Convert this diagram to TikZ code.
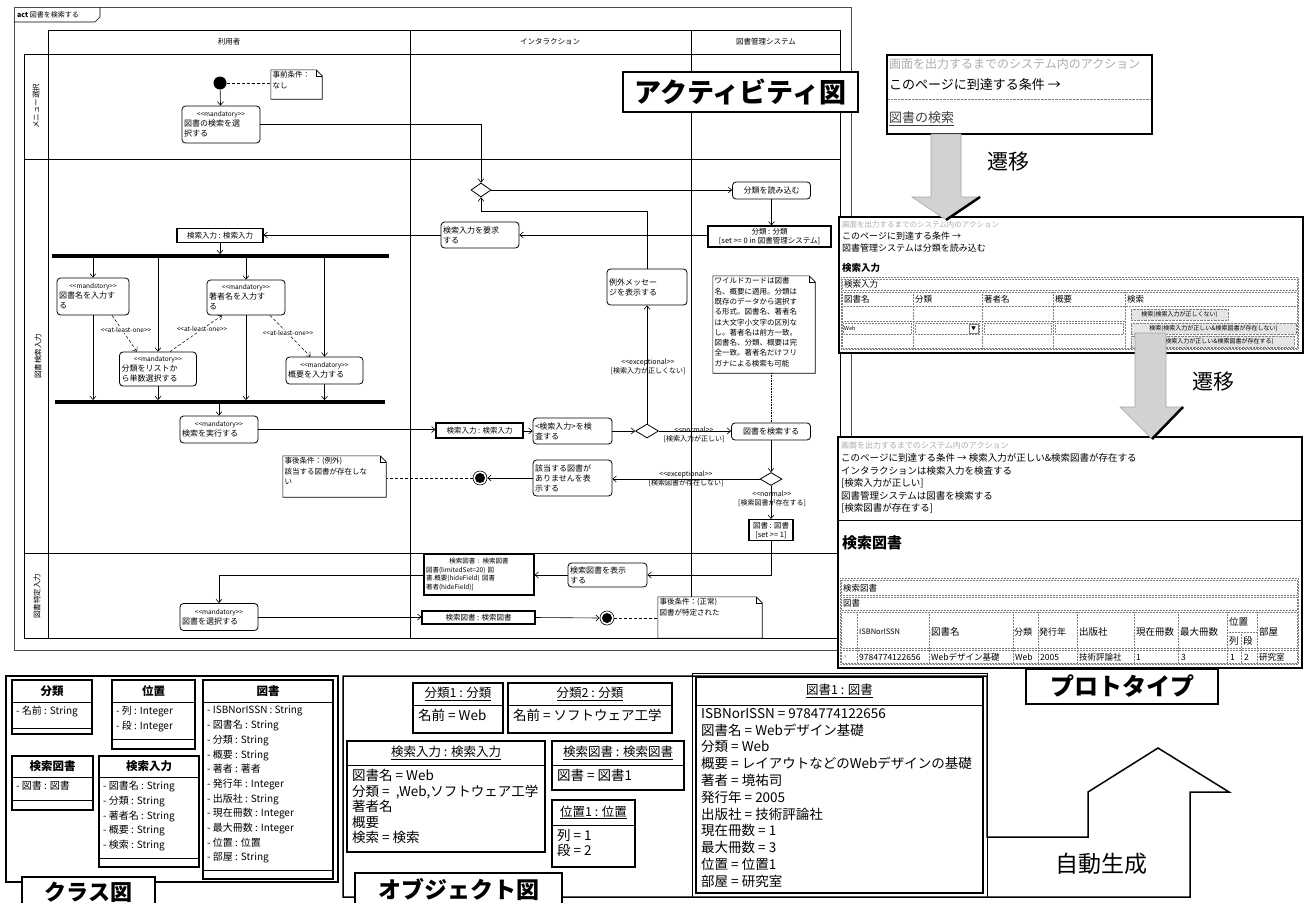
\documentclass[tikz,border=0pt]{standalone}
\usepackage{fontspec}
\setmainfont{Noto Sans CJK JP}
\usetikzlibrary{arrows.meta,shapes.geometric,calc}
\newcommand\fsz[2]{\fontsize{#1}{#2}\selectfont}
\newcommand\stx[1]{\hfill{\fsz{6.5}{8}<{}<#1>{}>}\hfill\null}
\newcommand\notefold[1]{%
  \draw[line width=0.6pt,fill=white] (#1.north west) -- ([xshift=-6pt]#1.north east) -- ([yshift=-6pt]#1.north east) -- (#1.south east) -- (#1.south west) -- cycle;
  \draw[line width=0.6pt] ([xshift=-6pt]#1.north east) |- ([yshift=-6pt]#1.north east);}
\newcommand\classbox[9]{%
  \draw[cls] (#2,#3) rectangle (#4,#5);
  \draw[line width=1pt] (#2,#6) -- (#4,#6);
  \draw[line width=1pt] (#2,#7) -- (#4,#7);
  \node[font=\bfseries\fsz{11.5}{13}, inner sep=0] (#1) at ({(#2+#4)/2},{(#3+#6)/2}) {#8};
  \node[anchor=north west, align=left, font=\fsz{10}{14.7}, inner sep=0] (#1-a) at ({#2+4},{#6+4}) {#9};}
\newcommand\objbox[8]{%
  \draw[cls] (#2,#3) rectangle (#4,#5);
  \draw[line width=1pt] (#2,#6) -- (#4,#6);
  \node[font=\fsz{12.5}{13}, inner sep=0] (#1) at ({(#2+#4)/2},{(#3+#6)/2}) {\underline{#7}};
  \node[anchor=north west, align=left, font=\fsz{13.5}{15.5}, inner sep=0] (#1-a) at ({#2+5},{#6+4}) {#8};}
\begin{document}
\begin{tikzpicture}[x=1pt,y=-1pt,
  act/.style={draw, rounded corners=3.5pt, fill=white, line width=0.8pt, inner sep=2pt, align=left, font=\fsz{8}{10}},
  obj/.style={draw, fill=white, line width=1.1pt, inner sep=1pt, align=center, font=\fsz{7.5}{9}},
  diam/.style={diamond, draw, fill=white, inner sep=0, line width=0.8pt},
  flow/.style={-{Straight Barb[length=3.5pt,width=6pt]}, line width=0.6pt},
  dep/.style={densely dashed, -{Straight Barb[length=3.5pt,width=6pt]}, line width=0.5pt},
  lane/.style={line width=0.8pt},
  lbl/.style={align=center, font=\fsz{7}{9}, inner sep=0},
  notetxt/.style={anchor=north west, align=left, inner sep=1.5pt, font=\fsz{7.5}{10.3}},
  cls/.style={draw, line width=1.5pt, fill=white},
  bigl/.style={draw, line width=1.6pt, fill=white, font=\bfseries\fsz{25}{28}, inner sep=0},
  pbox/.style={draw, line width=1.6pt, fill=white, inner sep=0},
  ptxt/.style={anchor=west, inner sep=0, font=\fsz{9.5}{11}},
  tcell/.style={draw=gray, densely dotted, line width=0.5pt},
  btn/.style={draw=gray, densely dotted, fill=gray!20, font=\fsz{6}{7}, inner sep=0},
  tarrow/.style={fill=gray!35, draw=gray!70, line width=0.6pt},
  tlbl/.style={font=\fsz{21}{23}, inner sep=0},
  bar/.style={fill=black, inner sep=0, minimum height=3.5pt},
  fin/.style={circle, draw, fill=white, minimum size=14pt, inner sep=0, line width=0.6pt}
]
\useasboundingbox (0,0) rectangle (1305,902);
\fill[white] (0,0) rectangle (1305,902);

%================ ACTIVITY DIAGRAM =================
\draw[line width=0.6pt, black!70] (14,7) rectangle (851,650);
\draw[line width=0.6pt] (14,22) -- (95,22) -- (100,17) -- (100,7);
\node[font=\fsz{7}{8}, anchor=west, inner sep=0] (acttitle) at (17,15) {\textbf{act} 図書を検索する};

\draw[lane] (48,30) -- (840,30);
\draw[lane] (24,54) -- (840,54);
\draw[lane] (24,159) -- (840,159);
\draw[lane] (24,553) -- (840,553);
\draw[lane] (24,638) -- (840,638);
\draw[lane] (24,54) -- (24,638);
\draw[lane] (48,30) -- (48,638);
\draw[lane] (410,30) -- (410,638);
\draw[lane] (691,30) -- (691,638);
\draw[lane] (840,30) -- (840,638);

\node[font=\fsz{7.5}{9}] (h1) at (229,42) {利用者};
\node[font=\fsz{7.5}{9}] (h2) at (550,42) {インタラクション};
\node[font=\fsz{7.5}{9}] (h3) at (766,42) {図書管理システム};
\node[rotate=90, font=\fsz{7.5}{9}] (r1) at (36,106) {メニュー選択};
\node[rotate=90, font=\fsz{7.5}{9}] (r2) at (38,356) {図書検索入力};
\node[rotate=90, font=\fsz{7.5}{9}] (r3) at (37,596) {図書特定入力};

% row 1
\node[circle, fill=black, minimum size=13pt, inner sep=0] (init) at (220,83) {};
\node[minimum width=51pt, minimum height=29pt, inner sep=0] (pre) at (296.5,84.5) {};
\notefold{pre}
\node[notetxt] (pret) at (pre.north west) {事前条件：\\なし};
\node[act, text width=74pt, minimum height=37pt] (m1) at (221,124.5) {\stx{mandatory}\\図書の検索を選\\択する};

% row 2
\node[diam, minimum width=20pt, minimum height=14pt] (d1) at (481,190) {};
\node[act, text width=74pt, minimum height=17pt, align=center] (rd) at (771.5,190.5) {分類を読み込む};
\node[obj, minimum width=123pt, minimum height=21pt] (cobj) at (769.5,236.5) {分類 : 分類\\{[}set >= 0 in 図書管理システム{]}};
\node[act, text width=74pt, minimum height=26pt] (req) at (480,235) {検索入力を要求\\する};
\node[obj, minimum width=86pt, minimum height=14pt] (in1) at (220,235.5) {検索入力 : 検索入力};
\node[bar, minimum width=337pt] (fork) at (220.5,256) {};
\node[act, text width=68pt, minimum height=37pt] (b1) at (93,296.5) {\stx{mandstory}\\図書名を入力す\\る};
\node[act, text width=73pt, minimum height=34pt] (b2) at (158,369) {\stx{mandatory}\\分類をリストか\\ら単数選択する};
\node[act, text width=74pt, minimum height=35pt] (b3) at (246,297.5) {\stx{mandatory}\\著者名を入力す\\る};
\node[act, text width=73pt, minimum height=27pt] (b4) at (324.5,370.5) {\stx{mandatory}\\概要を入力する};
\node[bar, minimum width=330pt] (join) at (220,402) {};
\node[act, text width=74pt, minimum height=27pt] (m2) at (219,429.5) {\stx{mandatory}\\検索を実行する};
\node[obj, minimum width=87pt, minimum height=15pt] (in2) at (479.5,430.5) {検索入力 : 検索入力};
\node[act, text width=75pt, minimum height=26pt] (chk) at (572.5,431) {<検索入力>を検\\査する};
\node[diam, minimum width=23pt, minimum height=14pt] (d2) at (647,431) {};
\node[act, text width=76pt, minimum height=36pt] (ex) at (647,287) {例外メッセー\\ジを表示する};
\node[act, text width=75pt, minimum height=17pt, align=center] (src) at (771,431.5) {図書を検索する};
\node[minimum width=102pt, minimum height=97pt, inner sep=0] (wn) at (764,324.5) {};
\notefold{wn}
\node[notetxt] (wnt) at (wn.north west) {ワイルドカードは図書\\名、概要に適用。分類は\\既存のデータから選択す\\る形式。図書名、著者名\\は大文字小文字の区別な\\し。著者名は前方一致。\\図書名、分類、概要は完\\全一致。著者名だけフリ\\ガナによる検索も可能};
\node[diam, minimum width=22pt, minimum height=13pt] (d3) at (771,479) {};
\node[act, text width=75pt, minimum height=36pt] (nf) at (572.5,478) {該当する図書が\\ありませんを表\\示する};
\node[fin] (f1) at (480,478) {};
\fill (f1.center) circle (5pt);
\node[minimum width=103pt, minimum height=41pt, inner sep=0] (po1) at (334.5,476.5) {};
\notefold{po1}
\node[notetxt] (po1t) at (po1.north west) {事後条件：(例外)\\該当する図書が存在しな\\い};
\node[obj, minimum width=44pt, minimum height=21pt] (bk) at (771,530) {図書 : 図書\\{[}set >= 1{]}};

% row 3
\node[act, text width=75pt, minimum height=24pt] (shw) at (607.5,575) {検索図書を表示\\する};
\node[obj, text width=106pt, minimum height=41pt, font=\fsz{6.5}{8.5}, align=left, inner sep=2pt] (sb) at (479,574.5) {\hfill 検索図書 : 検索図書\hfill\null\\図書(limitedSet=20) 図\\書.概要(hideField) 図書\\著者(hideField)]};
\node[act, text width=74pt, minimum height=27pt] (sel) at (219,617) {\stx{mandatory}\\図書を選択する};
\node[obj, minimum width=113pt, minimum height=13pt] (sb2) at (478.5,617.5) {検索図書 : 検索図書};
\node[fin] (f2) at (607,618) {};
\fill (f2.center) circle (5pt);
\node[minimum width=104pt, minimum height=41pt, inner sep=0] (po2) at (710,617.5) {};
\notefold{po2}
\node[notetxt] (po2t) at (po2.north west) {事後条件：(正常)\\図書が特定された};

% edges
\draw[densely dashed, line width=0.5pt] (init) -- (pre.west |- init);
\draw[flow] (init) -- (m1);
\draw[flow] (m1.east) -| (d1.north);
\draw[flow] (d1.east) -- (rd.west |- d1);
\draw[flow] (rd.south) -- (rd.south |- cobj.north);
\draw[flow] (cobj.west |- req) -- (req.east);
\draw[flow] (req.west) -- (in1.east |- req);
\draw[flow] (in1.south) -- (in1.south |- fork.north);
\draw[flow] (fork.south -| b1.north) -- (b1.north);
\draw[flow] (fork.south -| b2.north) -- (b2.north);
\draw[flow] (fork.south -| b3.north) -- (b3.north);
\draw[flow] (fork.south -| b4.north) -- (b4.north);
\draw[flow] (b1.south) -- (b1.south |- join.north);
\draw[flow] (b2.south) -- (b2.south |- join.north);
\draw[flow] (b3.south) -- (b3.south |- join.north);
\draw[flow] (b4.south) -- (b4.south |- join.north);
\draw[dep] ([xshift=19pt]b1.south) -- ([xshift=-21pt]b2.north);
\draw[dep] ([xshift=12pt]b2.north) -- ([xshift=-24pt]b3.south);
\draw[dep] ([xshift=24pt]b3.south) -- ([xshift=-14pt]b4.north);
\node[font=\fsz{6.5}{8}, fill=white, inner sep=0.5pt] (al1) at (126,330) {<{}<at-least-one>{}>};
\node[font=\fsz{6.5}{8}, fill=white, inner sep=0.5pt] (al2) at (202,329) {<{}<at-least-one>{}>};
\node[font=\fsz{6.5}{8}, fill=white, inner sep=0.5pt] (al3) at (288,333) {<{}<at-least-one>{}>};
\draw[flow] (join.south -| m2.north) -- (m2.north);
\draw[flow] (m2.east) -- (in2.west |- m2.east);
\draw[flow] (in2.east |- chk.west) -- (chk.west);
\draw[flow] (chk.east) -- (d2.west);
\draw[flow] (d2.north) -- (ex.south);
\coordinate (cex) at (481,211);
\draw[flow] (ex.north) |- (cex) -- (d1.south);
\draw[flow] (d2.east) -- (src.west |- d2.east);
\node[lbl] (l1) at (648,367) {<{}<exceptional>{}>\\{[}検索入力が正しくない{]}};
\node[lbl] (l2) at (694,435) {<{}<normal>{}>\\{[}検索入力が正しい{]}};
\draw[densely dotted, line width=0.6pt] (src.north |- wn.south) -- (src.north);
\draw[flow] (src.south) -- (d3.north);
\draw[flow] (d3.west) -- (nf.east |- d3.west);
\node[lbl] (l3) at (686,479) {<{}<exceptional>{}>\\{[}検索図書が存在しない{]}};
\draw[flow] (nf.west) -- (f1.east);
\draw[densely dashed, line width=0.5pt] (f1.west) -- (po1.east |- f1.west);
\draw[flow] (d3.south) -- (bk.north);
\node[lbl] (l4) at (772,499) {<{}<normal>{}>\\{[}検索図書が存在する{]}};
\draw[flow] (bk.south) |- (shw.east);
\draw[flow] (shw.west) -- (sb.east |- shw.west);
\draw[flow] (sb.west |- shw.west) -| (sel.north);
\draw[flow] (sel.east) -- (sb2.west |- sel.east);
\draw[flow] (sb2.east) -- (f2.west);
\draw[densely dashed, line width=0.5pt] (f2.east) -- (po2.west |- f2.east);

\node[bigl, minimum width=235pt, minimum height=40pt, font=\bfseries\fsz{27}{30}] (actlbl) at (740.5,92) {アクティビティ図};

%================ PROTOTYPES =================
\node[pbox, minimum width=265pt, minimum height=79pt] (p1) at (1019.5,94.5) {};
\node[ptxt, font=\fsz{12}{13}, text=gray!65] (p1a) at (889,64) {画面を出力するまでのシステム内のアクション};
\node[ptxt, font=\fsz{13}{14}] (p1b) at (889,85) {このページに到達する条件 →};
\draw[densely dotted, gray] (888,99) -- (1151,99);
\node[ptxt, font=\fsz{13}{14}, text=black!75] (p1c) at (889,119) {\underline{図書の検索}};

\node[pbox, minimum width=464pt, minimum height=136pt] (p2) at (1071,285) {};
\node[ptxt, font=\fsz{7.5}{8}, text=gray!65] (p2a) at (842,225) {画面を出力するまでのシステム内のアクション};
\node[ptxt, font=\fsz{9}{10}] (p2b) at (842,236) {このページに到達する条件 →};
\node[ptxt, font=\fsz{9}{10}] (p2c) at (842,248) {図書管理システムは分類を読み込む};
\node[ptxt, font=\bfseries\fsz{9.5}{10}] (p2d) at (842,268) {検索入力};
\draw[tcell] (841,277) rectangle (1298,349);
\draw[tcell] (842,279) rectangle (1297,290);
\node[ptxt, font=\fsz{8.5}{9}] (p2e) at (844,284.5) {検索入力};
\draw[tcell] (842,292) rectangle (1297,348);
\foreach \xx in {913,982,1053,1125} {\draw[tcell] (\xx,292) -- (\xx,348);}
\draw[tcell] (842,306) -- (1297,306);
\draw[tcell] (842,321) -- (1125,321);
\node[ptxt, font=\fsz{8.5}{9}] (c1) at (844,299) {図書名};
\node[ptxt, font=\fsz{8.5}{9}] (c2) at (915,299) {分類};
\node[ptxt, font=\fsz{8.5}{9}] (c3) at (984,299) {著者名};
\node[ptxt, font=\fsz{8.5}{9}] (c4) at (1055,299) {概要};
\node[ptxt, font=\fsz{8.5}{9}] (c5) at (1127,299) {検索};
\draw[tcell] (843,323) rectangle (911,334);
\node[ptxt, font=\fsz{5.5}{6}] (web) at (844,328) {Web};
\draw[tcell] (915,323) rectangle (979,334);
\draw[gray] (969,324) rectangle (978,333);
\node[font=\fsz{5}{5}, inner sep=0] (dd) at (973.5,328.5) {▼};
\draw[tcell] (984,323) rectangle (1051,334);
\draw[tcell] (1055,323) rectangle (1123,334);
\node[btn, minimum width=97pt, minimum height=11pt] (bt1) at (1179.5,314.5) {検索(検索入力が正しくない)};
\node[btn, minimum width=165pt, minimum height=11pt] (bt2) at (1213.5,328.5) {検索(検索入力が正しい\&検索図書が存在しない)};
\node[btn, minimum width=163pt, minimum height=11pt] (bt3) at (1212.5,341.5) {検索(検索入力が正しい\&検索図書が存在する)};

\draw[tarrow] (931,134) -- (931,197) -- (912,197) -- (946,220) -- (980,197) -- (961,197) -- (961,134) -- cycle;
\draw[line width=2.5pt] (980,197) -- (946,220);
\node[tlbl] (tr1) at (1008,162) {遷移};

\node[pbox, minimum width=464pt, minimum height=231pt] (p3) at (1070,552.5) {};
\node[ptxt, font=\fsz{8}{9}, text=gray!65] (p3a) at (841,445) {画面を出力するまでのシステム内のアクション};
\node[ptxt] (p3b) at (841,458) {このページに到達する条件 → 検索入力が正しい\&検索図書が存在する};
\node[ptxt] (p3c) at (841,470.5) {インタラクションは検索入力を検査する};
\node[ptxt] (p3d) at (841,483) {[検索入力が正しい]};
\node[ptxt] (p3e) at (841,495.5) {図書管理システムは図書を検索する};
\node[ptxt] (p3f) at (841,508) {[検索図書が存在する]};
\draw[line width=0.6pt] (839,520) -- (1301,520);
\node[ptxt, font=\bfseries\fsz{15}{16}] (p3g) at (842,543) {検索図書};
\draw[tcell] (840,578) rectangle (1298,664);
\draw[tcell] (841,580) rectangle (1297,595);
\node[ptxt, font=\fsz{8.5}{9}] (p3h) at (843,588) {検索図書};
\draw[tcell] (841,597) rectangle (1297,610);
\node[ptxt, font=\fsz{8.5}{9}] (p3i) at (843,603) {図書};
\draw[tcell] (841,612) rectangle (1297,648);
\draw[tcell] (841,650) rectangle (1297,663);
\foreach \xx in {857,929,1013,1038,1077,1134,1178,1227,1257} {\draw[tcell] (\xx,612) -- (\xx,663);}
\draw[tcell] (1227,632) -- (1257,632);
\draw[tcell] (1241,632) -- (1241,663);
\node[ptxt, font=\fsz{7.5}{8}] (k1) at (859,632) {ISBNorISSN};
\node[ptxt] (k2) at (931,632) {図書名};
\node[ptxt, font=\fsz{9}{10}] (k3) at (1014,632) {分類};
\node[ptxt, font=\fsz{9}{10}] (k4) at (1039,632) {発行年};
\node[ptxt] (k5) at (1079,632) {出版社};
\node[ptxt] (k6) at (1136,632) {現在冊数};
\node[ptxt] (k7) at (1180,632) {最大冊数};
\node[ptxt] (k8) at (1229,622) {位置};
\node[ptxt] (k9) at (1229,641) {列};
\node[ptxt] (k10) at (1243,641) {段};
\node[ptxt] (k11) at (1259,632) {部屋};
\node[ptxt, font=\fsz{8.5}{9}, text=gray] (v0) at (844,657) {›};
\node[ptxt, font=\fsz{8.5}{9}] (v1) at (859,657) {9784774122656};
\node[ptxt, font=\fsz{8.5}{9}] (v2) at (931,657) {Webデザイン基礎};
\node[ptxt, font=\fsz{8.5}{9}] (v3) at (1015,657) {Web};
\node[ptxt, font=\fsz{8.5}{9}] (v4) at (1040,657) {2005};
\node[ptxt, font=\fsz{8.5}{9}] (v5) at (1079,657) {技術評論社};
\node[ptxt, font=\fsz{8.5}{9}] (v6) at (1136,657) {1};
\node[ptxt, font=\fsz{8.5}{9}] (v7) at (1181,657) {3};
\node[ptxt, font=\fsz{8.5}{9}] (v8) at (1230,657) {1};
\node[ptxt, font=\fsz{8.5}{9}] (v9) at (1244,657) {2};
\node[ptxt, font=\fsz{8.5}{9}] (v10) at (1259,657) {研究室};

\draw[tarrow] (1135,333) -- (1135,407) -- (1120,407) -- (1152,439) -- (1183,407) -- (1166,407) -- (1166,333) -- cycle;
\draw[line width=2.5pt] (1183,407) -- (1152,439);
\node[tlbl] (tr2) at (1213,382) {遷移};

\node[bigl, minimum width=192pt, minimum height=35pt, font=\bfseries\fsz{24}{26}] (protolbl) at (1122,686.5) {プロトタイプ};

%================ CLASS DIAGRAM =================
\draw[line width=1.5pt] (6,676) rectangle (338,882);
\classbox{k-bunrui}{12}{680}{92}{734}{702}{728}{分類}{- 名前 : String}
\classbox{k-ichi}{112}{680}{195}{749}{702}{739}{位置}{- 列 : Integer\\- 段 : Integer}
\classbox{k-tosho}{203}{680}{333}{879}{702}{870}{図書}{- ISBNorISSN : String\\- 図書名 : String\\- 分類 : String\\- 概要 : String\\- 著者 : 著者\\- 発行年 : Integer\\- 出版社 : String\\- 現在冊数 : Integer\\- 最大冊数 : Integer\\- 位置 : 位置\\- 部屋 : String}
\classbox{k-ktosho}{12}{756}{93}{810}{777}{800}{検索図書}{- 図書 : 図書}
\classbox{k-kin}{99}{756}{199}{867}{777}{858}{検索入力}{- 図書名 : String\\- 分類 : String\\- 著者名 : String\\- 概要 : String\\- 検索 : String}
\node[bigl, minimum width=133pt, minimum height=30pt, font=\bfseries\fsz{22}{24}] (clslbl) at (88.5,892) {クラス図};

%================ OBJECT DIAGRAM + AUTO GENERATION ARROW =================
\draw[line width=1.5pt] (343,676) -- (987,676) -- (987,837) -- (1088,837) -- (1088,792) -- (1158,748) -- (1229,792) -- (1190,792) -- (1190,897) -- (343,897) -- cycle;
\node[font=\fsz{23}{25}, inner sep=0] (auto) at (1101,864) {自動生成};
\objbox{o-b1}{413}{683}{503}{733}{705}{分類1 : 分類}{名前 = Web}
\objbox{o-b2}{508}{683}{672}{733}{705}{分類2 : 分類}{名前 = ソフトウェア工学}
\objbox{o-in}{347}{741}{545}{852}{765}{検索入力 : 検索入力}{図書名 = Web\\分類 = \ ,Web,ソフトウェア工学\\著者名\\概要\\検索 = 検索}
\objbox{o-ks}{552}{741}{684}{790}{765}{検索図書 : 検索図書}{図書 = 図書1}
\objbox{o-pos}{552}{800}{635}{867}{825}{位置1 : 位置}{列 = 1\\段 = 2}
\draw[line width=0.8pt] (692,673) rectangle (987,897);
\draw[cls] (696,677) rectangle (983,893);
\draw[line width=1pt] (696,705) -- (983,705);
\node[font=\fsz{12.5}{13}, inner sep=0] (o-t1) at (839.5,691) {\underline{図書1 : 図書}};
\node[anchor=north west, align=left, font=\fsz{13.5}{16.8}, inner sep=0] (o-t1a) at (701,708) {ISBNorISSN = 9784774122656\\図書名 = Webデザイン基礎\\分類 = Web\\概要 = レイアウトなどのWebデザインの基礎\\著者 = 境祐司\\発行年 = 2005\\出版社 = 技術評論社\\現在冊数 = 1\\最大冊数 = 3\\位置 = 位置1\\部屋 = 研究室};
\node[bigl, minimum width=207pt, minimum height=32pt, font=\bfseries\fsz{23}{25}] (objlbl) at (458.5,889) {オブジェクト図};
\end{tikzpicture}
\end{document}
